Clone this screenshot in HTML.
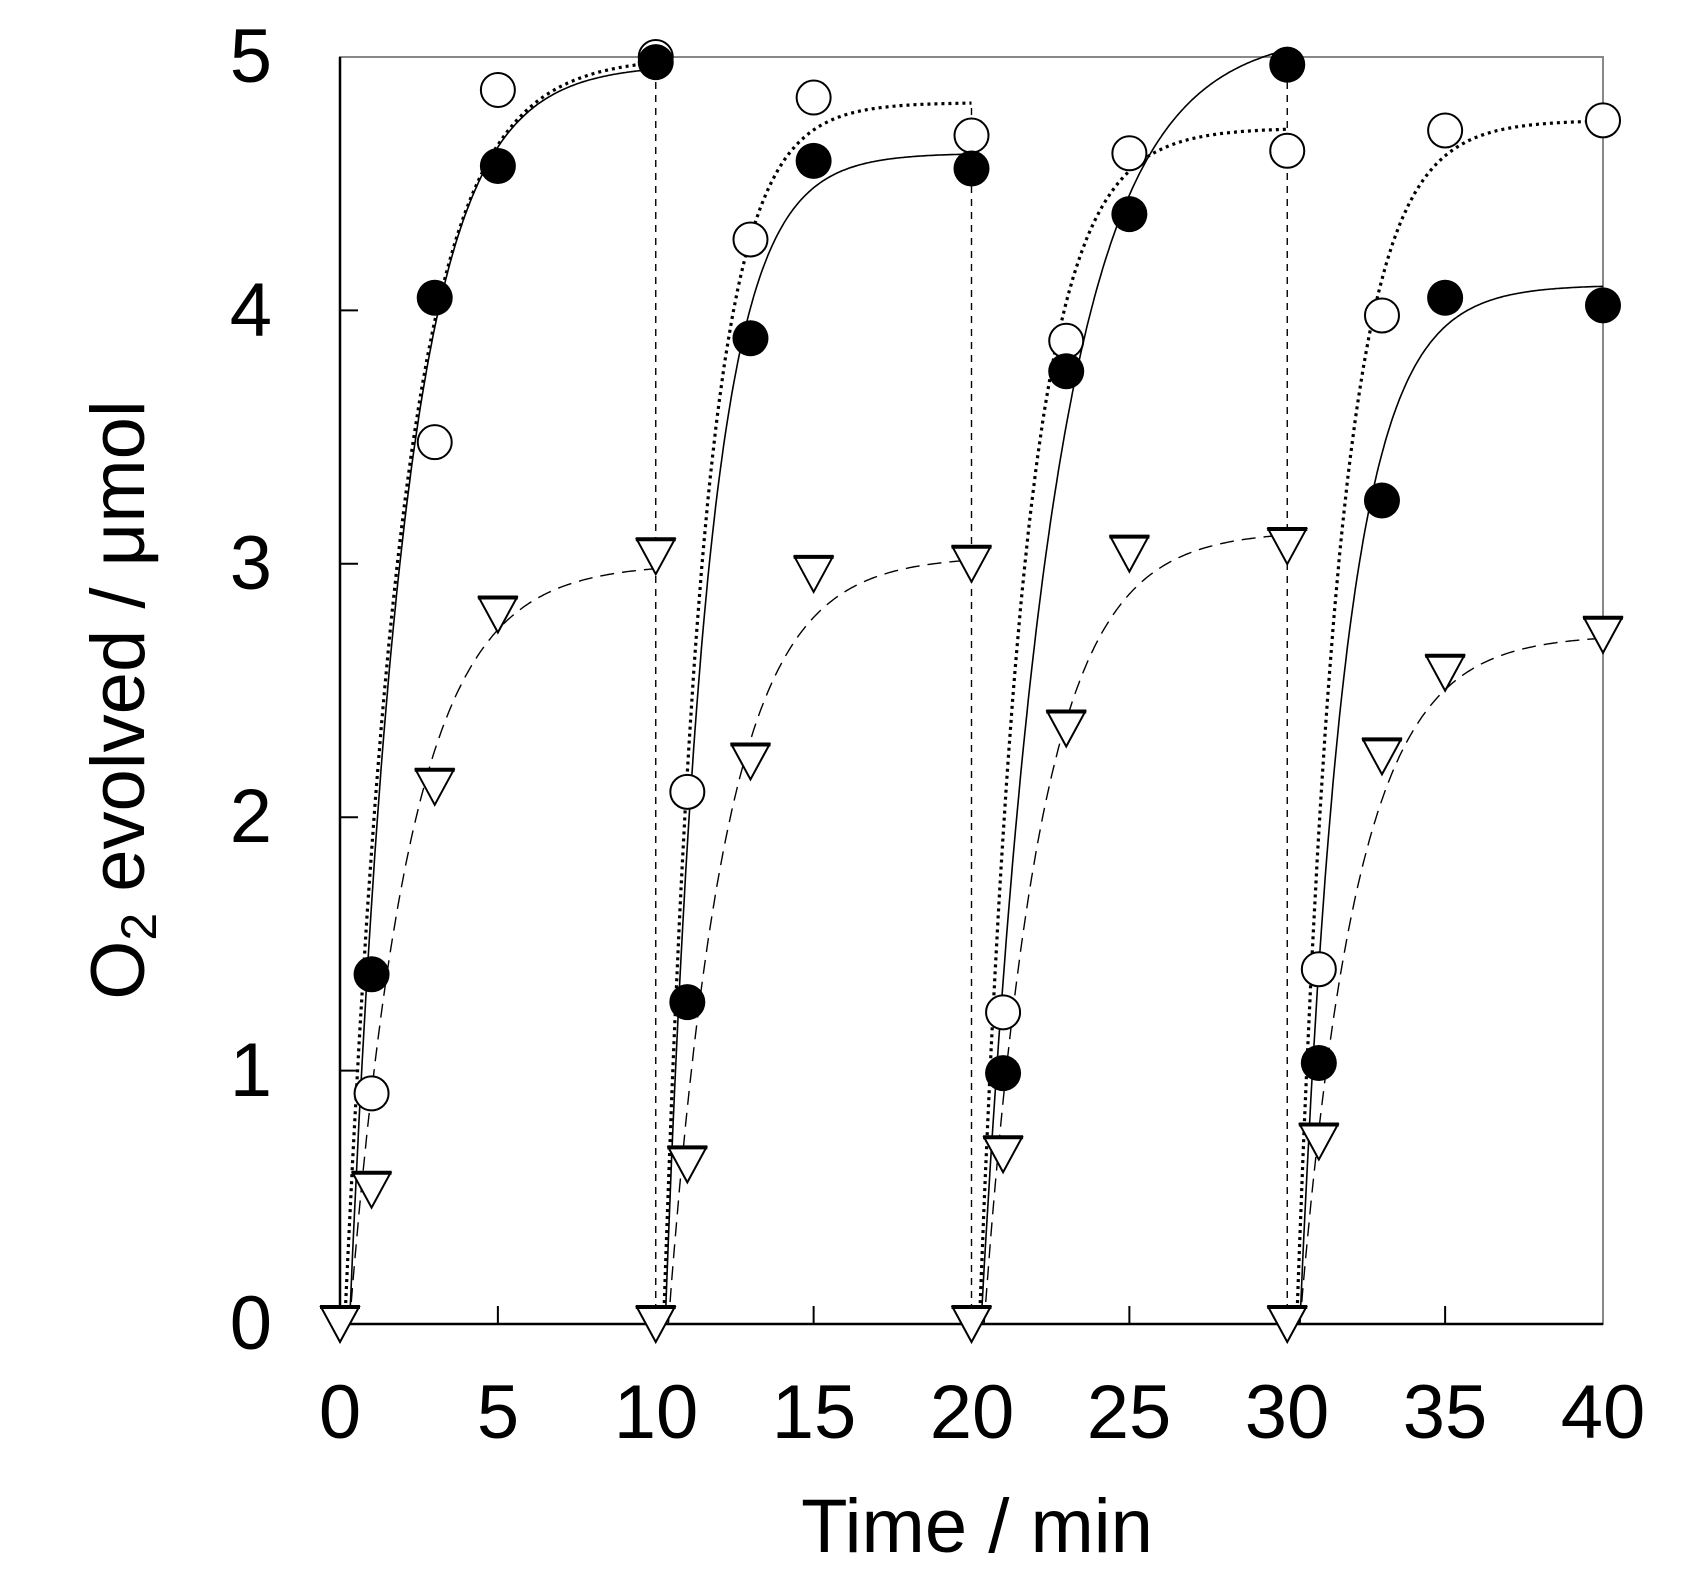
<!DOCTYPE html>
<html><head><meta charset="utf-8"><style>
html,body{margin:0;padding:0;background:#fff;}
svg{display:block;}
text{font-family:"Liberation Sans",Arial,sans-serif;fill:#000;}
</style></head><body>
<svg id="s" width="1691" height="1586" viewBox="0 0 1691 1586" xmlns="http://www.w3.org/2000/svg">
<rect x="340" y="57" width="1263" height="1267" fill="none" stroke="#888" stroke-width="2"/>
<line x1="340" y1="57" x2="340" y2="1324" stroke="#000" stroke-width="2.5"/>
<line x1="340" y1="1324" x2="1603" y2="1324" stroke="#000" stroke-width="2.5"/>
<g id="ticks" stroke="#000" stroke-width="2"></g>
<g id="curves" fill="none"></g>
<g id="marks"></g>
<g font-size="76" text-anchor="end">
<text x="272" y="82">5</text>
<text x="272" y="336">4</text>
<text x="272" y="589">3</text>
<text x="272" y="842">2</text>
<text x="272" y="1096">1</text>
<text x="272" y="1349">0</text>
</g>
<g font-size="76" text-anchor="middle">
<text x="340" y="1438">0</text>
<text x="498" y="1438">5</text>
<text x="656" y="1438">10</text>
<text x="814" y="1438">15</text>
<text x="972" y="1438">20</text>
<text x="1129" y="1438">25</text>
<text x="1287" y="1438">30</text>
<text x="1445" y="1438">35</text>
<text x="1603" y="1438">40</text>
<text x="977" y="1552">Time / min</text>
</g>
<text font-size="76" text-anchor="middle" transform="translate(144,700) rotate(-90)">O<tspan font-size="50" dy="12">2</tspan><tspan dy="-12"> evolved / μmol</tspan></text>
</svg>
<script>
const X=t=>340+t*31.575, Y=v=>1324-v*253.4;
const NS="http://www.w3.org/2000/svg";
function el(p,tag,a){const e=document.createElementNS(NS,tag);for(const k in a)e.setAttribute(k,a[k]);document.getElementById(p).appendChild(e);return e;}
for(let i=1;i<5;i++)el("ticks","line",{x1:340,x2:358,y1:Y(i),y2:Y(i)});
for(let i=1;i<8;i++)el("ticks","line",{x1:X(i*5),x2:X(i*5),y1:1324,y2:1306});
function curve(t0,A,k,end,style){let d="";for(let t=t0;t<=end+1e-6;t+=0.05){const v=A*(1-Math.exp(-k*(t-t0)));d+=(d?"L":"M")+X(t).toFixed(1)+","+Y(v).toFixed(1);}el("curves","path",Object.assign({d:d},style));}
const sol={stroke:"#000","stroke-width":1.6}, dot={stroke:"#000","stroke-width":3.2,"stroke-dasharray":"3 4"}, das={stroke:"#000","stroke-width":1.4,"stroke-dasharray":"14 8"};
const vs=[[10,5.0],[20,4.8],[30,4.97]];
vs.forEach(([t,v])=>el("curves","line",{x1:X(t),x2:X(t),y1:Y(0),y2:Y(v),stroke:"#000","stroke-width":1.4,"stroke-dasharray":"7 6"}));
const segs=[
 [[0.3,4.97,0.58],[0.15,5.0,0.55],[0.3,3.0,0.52]],
 [[10.3,4.62,0.75],[10.25,4.82,0.8],[10.4,3.03,0.55]],
 [[20.3,5.1,0.44],[20.25,4.72,0.7],[20.4,3.13,0.55]],
 [[30.4,4.1,0.7],[30.3,4.75,0.75],[30.4,2.72,0.55]]];
segs.forEach((s,i)=>{const e=i*10+10;curve(s[0][0],s[0][1],s[0][2],e,sol);curve(s[1][0],s[1][1],s[1][2],e,dot);curve(s[2][0],s[2][1],s[2][2],e,das);});
const fc=[[1,1.38],[3,4.05],[5,4.57],[10,4.98],[11,1.27],[13,3.89],[15,4.59],[20,4.56],[21,0.99],[23,3.76],[25,4.38],[30,4.97],[31,1.03],[33,3.25],[35,4.05],[40,4.02]];
const oc=[[1,0.91],[3,3.48],[5,4.87],[10,5.0],[11,2.1],[13,4.28],[15,4.84],[20,4.69],[21,1.23],[23,3.88],[25,4.62],[30,4.63],[31,1.4],[33,3.98],[35,4.71],[40,4.75]];
const tr=[[0,0],[1,0.53],[3,2.12],[5,2.8],[10,3.03],[10,0],[11,0.63],[13,2.22],[15,2.96],[20,3.0],[20,0],[21,0.67],[23,2.35],[25,3.04],[30,3.07],[30,0],[31,0.72],[33,2.24],[35,2.57],[40,2.72]];
tr.forEach(([t,v])=>{const x=X(t),y=Y(v);el("marks","path",{d:`M${x-19},${y-17}L${x+19},${y-17}L${x},${y+18}Z`,fill:"#fff",stroke:"#000","stroke-width":2});el("marks","line",{x1:x-20,x2:x+20,y1:y-17,y2:y-17,stroke:"#000","stroke-width":4});});
oc.forEach(([t,v])=>el("marks","circle",{cx:X(t),cy:Y(v),r:17,fill:"#fff",stroke:"#000","stroke-width":2}));
fc.forEach(([t,v])=>el("marks","circle",{cx:X(t),cy:Y(v),r:18,fill:"#000"}));
</script>
</body></html>
